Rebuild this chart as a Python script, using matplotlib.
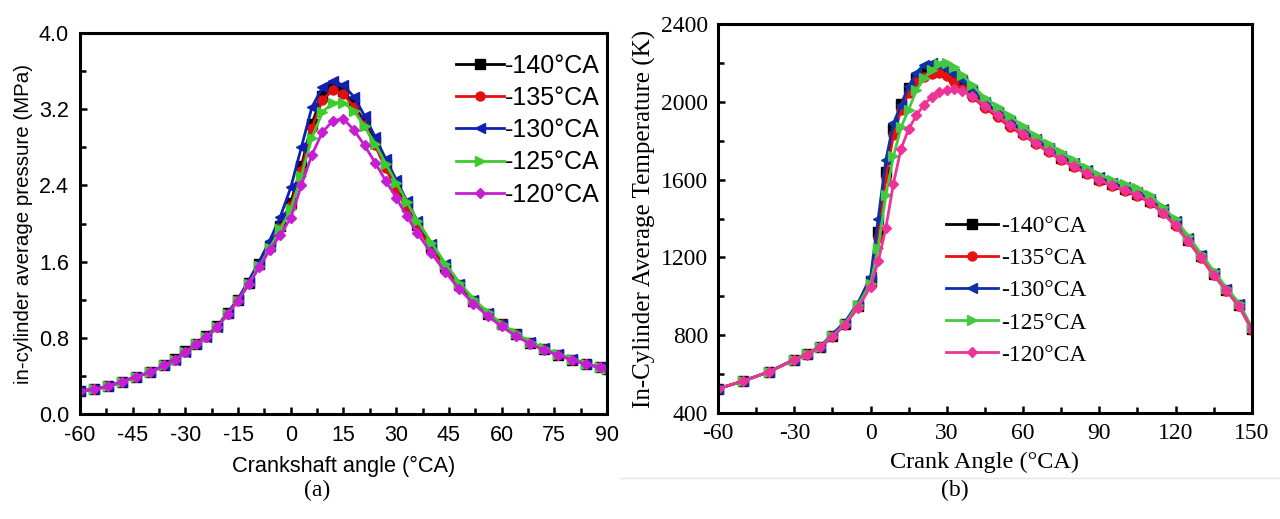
import matplotlib.pyplot as plt
import numpy as np

plt.rcParams['axes.unicode_minus'] = False

# ---- (a) in-cylinder pressure ----
labels = ['-140°CA', '-135°CA', '-130°CA', '-125°CA', '-120°CA']

xa = [-60, -56, -52, -48, -44, -40, -36, -33, -30, -27, -24, -21, -18, -15, -12, -9, -6, -3,
      0, 3, 6, 9, 12, 15, 18, 21, 24, 27, 30, 33, 36, 40, 44, 48, 52, 56, 60, 64, 68, 72,
      76, 80, 84, 88, 90]

p140 = [0.24, 0.26, 0.29, 0.34, 0.39, 0.44, 0.51, 0.58, 0.66, 0.74, 0.82, 0.92, 1.06, 1.20, 1.38, 1.57, 1.76, 1.97,
        2.22, 2.60, 3.05, 3.34, 3.44, 3.39, 3.25, 3.06, 2.86, 2.63, 2.40, 2.18, 1.98, 1.75, 1.54, 1.35, 1.19, 1.05, 0.94, 0.84, 0.75, 0.68,
        0.62, 0.57, 0.53, 0.49, 0.47]
p135 = [0.24, 0.26, 0.29, 0.34, 0.39, 0.44, 0.51, 0.57, 0.65, 0.73, 0.81, 0.91, 1.05, 1.20, 1.38, 1.56, 1.75, 1.95,
        2.18, 2.55, 3.00, 3.30, 3.40, 3.36, 3.22, 3.03, 2.82, 2.58, 2.36, 2.15, 1.96, 1.74, 1.54, 1.35, 1.19, 1.05, 0.94, 0.84, 0.75, 0.68,
        0.62, 0.57, 0.53, 0.49, 0.47]
p130 = [0.24, 0.26, 0.29, 0.34, 0.39, 0.44, 0.51, 0.57, 0.65, 0.73, 0.81, 0.91, 1.06, 1.21, 1.40, 1.60, 1.82, 2.07,
        2.38, 2.80, 3.22, 3.43, 3.50, 3.45, 3.33, 3.13, 2.91, 2.68, 2.46, 2.24, 2.03, 1.79, 1.57, 1.37, 1.20, 1.06, 0.94, 0.84, 0.76, 0.69,
        0.63, 0.58, 0.53, 0.49, 0.47]
p125 = [0.24, 0.26, 0.29, 0.34, 0.39, 0.44, 0.51, 0.57, 0.65, 0.73, 0.81, 0.91, 1.05, 1.19, 1.37, 1.55, 1.74, 1.94,
        2.15, 2.50, 2.90, 3.17, 3.27, 3.27, 3.18, 3.02, 2.84, 2.63, 2.43, 2.23, 2.03, 1.80, 1.58, 1.38, 1.21, 1.07, 0.95, 0.85, 0.76, 0.69,
        0.63, 0.58, 0.53, 0.49, 0.47]
p120 = [0.24, 0.26, 0.29, 0.34, 0.39, 0.44, 0.51, 0.57, 0.65, 0.73, 0.81, 0.91, 1.05, 1.19, 1.36, 1.54, 1.72, 1.88,
        2.06, 2.40, 2.72, 2.96, 3.08, 3.10, 2.98, 2.82, 2.64, 2.45, 2.27, 2.08, 1.90, 1.69, 1.49, 1.31, 1.16, 1.03, 0.92, 0.82, 0.74, 0.67,
        0.62, 0.57, 0.52, 0.49, 0.47]

# ---- (b) in-cylinder temperature ----
xb = [-60, -50, -40, -30, -25, -20, -15, -10, -5, 0, 3, 6, 9, 12, 15, 18, 21, 24, 27, 30, 33, 36,
      40, 45, 50, 55, 60, 65, 70, 75, 80, 85, 90, 95, 100, 105, 110, 115, 120, 125, 130, 135, 140, 145, 150]

t140 = [525, 565, 612, 675, 705, 740, 795, 860, 950, 1080, 1330, 1640, 1860, 1990, 2070, 2120, 2150, 2162, 2165, 2155, 2130, 2100,
        2050, 1990, 1940, 1890, 1845, 1800, 1755, 1712, 1675, 1640, 1603, 1577, 1552, 1528, 1492, 1440, 1375, 1292, 1205, 1115, 1035, 955, 832]
t135 = [525, 565, 612, 675, 705, 740, 795, 858, 945, 1070, 1300, 1610, 1830, 1960, 2045, 2100, 2130, 2145, 2148, 2135, 2100, 2065,
        2025, 1970, 1920, 1870, 1830, 1785, 1742, 1702, 1665, 1630, 1595, 1568, 1542, 1518, 1482, 1428, 1362, 1282, 1197, 1108, 1028, 948, 828]
t130 = [525, 565, 612, 675, 705, 740, 805, 870, 965, 1100, 1400, 1700, 1890, 1985, 2080, 2150, 2190, 2200, 2190, 2170, 2145, 2110,
        2060, 2000, 1950, 1900, 1855, 1810, 1765, 1722, 1685, 1648, 1612, 1585, 1560, 1535, 1500, 1448, 1385, 1300, 1210, 1120, 1040, 960, 835]
t125 = [525, 565, 612, 675, 705, 740, 795, 860, 955, 1065, 1250, 1520, 1720, 1870, 1960, 2060, 2120, 2165, 2195, 2200, 2180, 2140,
        2085, 2020, 1975, 1925, 1875, 1825, 1782, 1740, 1700, 1660, 1625, 1600, 1578, 1555, 1520, 1460, 1395, 1310, 1220, 1130, 1045, 965, 840]
t120 = [525, 565, 612, 672, 700, 737, 790, 855, 940, 1050, 1180, 1350, 1580, 1760, 1860, 1930, 1985, 2025, 2050, 2062, 2065, 2055,
        2030, 1980, 1930, 1880, 1835, 1790, 1745, 1705, 1668, 1632, 1598, 1570, 1545, 1520, 1485, 1430, 1365, 1285, 1200, 1110, 1030, 950, 830]

markers = ['s', 'o', '<', '>', 'D']
colors_a = ['#000000', '#e01010', '#1020b0', '#3ccc2c', '#c81ed2']
colors_b = ['#000000', '#e81010', '#1030a8', '#44c840', '#ee3398']

fig = plt.figure(figsize=(12.8, 5.19), dpi=100)

# left panel
ax1 = fig.add_axes([0.0625, 0.2023, 0.4117, 0.734])
for ys, m, c, lab in zip([p140, p135, p130, p125, p120], markers, colors_a, labels):
    ax1.plot(xa, ys, color=c, marker=m, markersize=6.5 if m != 'D' else 5.5, lw=2, label=lab)
ax1.set_xlim(-60, 90)
ax1.set_ylim(0, 4.0)
ax1.set_xticks(np.arange(-60, 91, 15))
ax1.set_xticks(np.arange(-52.5, 90, 15), minor=True)
ax1.set_yticks(np.arange(0, 4.01, 0.8))
ax1.set_yticks(np.arange(0.4, 4.0, 0.8), minor=True)
ax1.tick_params(which='both', direction='in', top=False, right=False, width=1.8)
ax1.tick_params(which='major', length=5, labelsize=15.5, pad=8)
ax1.tick_params(which='minor', length=4)
for lbl in ax1.get_xticklabels() + ax1.get_yticklabels():
    lbl.set_family('Liberation Sans')
for s in ax1.spines.values():
    s.set_linewidth(2.2)
ax1.set_xlabel('Crankshaft angle (°CA)', fontsize=15.7, family='Liberation Sans', labelpad=7)
ax1.set_ylabel('in-cylinder average pressure (MPa)', fontsize=14.8, family='Liberation Sans', labelpad=4)
ax1.legend(loc='upper left', bbox_to_anchor=(0.695, 0.972), frameon=False,
           prop={'family': 'Liberation Sans', 'size': 18}, handlelength=1.9,
           handletextpad=0.05, labelspacing=0.33, borderaxespad=0)

# right panel
ax2 = fig.add_axes([0.561, 0.2042, 0.417, 0.7495])
for ys, m, c, lab in zip([t140, t135, t130, t125, t120], markers, colors_b, labels):
    ax2.plot(xb, ys, color=c, marker=m, markersize=6.5 if m != 'D' else 5.5, lw=2, label=lab)
ax2.set_xlim(-60, 150)
ax2.set_ylim(400, 2400)
ax2.set_xticks(np.arange(-60, 151, 30))
ax2.set_xticks(np.arange(-45, 150, 30), minor=True)
ax2.set_yticks(np.arange(400, 2401, 400))
ax2.set_yticks(np.arange(600, 2400, 400), minor=True)
ax2.tick_params(which='both', direction='in', top=False, right=False, width=1.8)
ax2.tick_params(which='major', length=5, labelsize=17, pad=7)
ax2.tick_params(which='minor', length=4)
for lbl in ax2.get_xticklabels() + ax2.get_yticklabels():
    lbl.set_family('Liberation Serif')
for s in ax2.spines.values():
    s.set_linewidth(2.2)
ax2.set_xlabel('Crank Angle (°CA)', fontsize=17.5, family='Liberation Serif', labelpad=6)
ax2.set_ylabel('In-Cylinder Average Temperature (K)', fontsize=18, family='Liberation Serif', labelpad=4)
ax2.legend(loc='upper left', bbox_to_anchor=(0.41, 0.532), frameon=False,
           prop={'family': 'Liberation Serif', 'size': 17}, handlelength=2.2,
           handletextpad=0.1, labelspacing=0.45, borderaxespad=0)

# captions and separator
fig.text(0.248, 0.055, '(a)', ha='center', va='center', fontsize=17, family='Liberation Serif')
fig.text(0.746, 0.055, '(b)', ha='center', va='center', fontsize=17, family='Liberation Serif')
fig.add_artist(plt.Line2D([0.485, 1.0], [0.079, 0.079], color='#e4e4e4', lw=1))

fig.savefig('out.png', dpi=100)
